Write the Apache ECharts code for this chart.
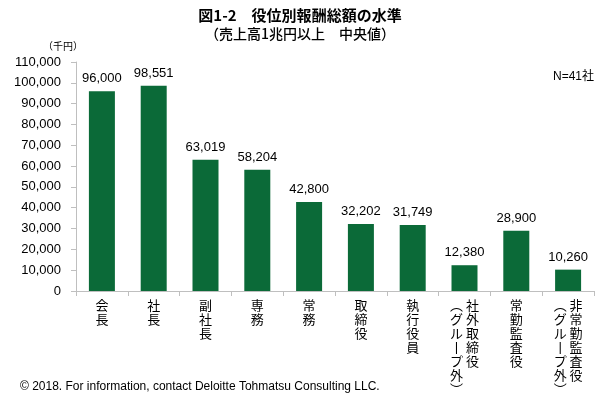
<!DOCTYPE html>
<html><head><meta charset="utf-8">
<script src="https://cdn.jsdelivr.net/npm/echarts@6/dist/echarts.min.js"></script>
<style>html,body{margin:0;padding:0;background:#fff}#c{width:600px;height:395px}</style>
</head><body><div id="c"></div>
<script>
const categories = ['会長','社長','副社長','専務','常務','取締役','執行役員','社外取締役','常勤監査役','非常勤監査役'];
const subNotes = ['','','','','','','','（グループ外）','','（グループ外）'];
const values = [96000, 98551, 63019, 58204, 42800, 32202, 31749, 12380, 28900, 10260];
const yTicks = [0,10000,20000,30000,40000,50000,60000,70000,80000,90000,100000,110000];

const vmap = {'（':'︵','）':'︶','ー':'丨'};
function vert(main, note){
  const a = Array.from(main);
  const b = Array.from(note).map(c => vmap[c] || c);
  if (!b.length) return a.join('\n');
  const n = Math.max(a.length, b.length);
  const rows = [];
  for (let i=0;i<n;i++){
    rows.push((b[i]||'　') + ' ' + (a[i]||'　'));
  }
  return rows.join('\n');
}
const labels = categories.map((c,i)=>vert(c, subNotes[i]));

const chart = echarts.init(document.getElementById('c'), null, {renderer:'canvas'});
const jp = '"Liberation Sans", Arial, "Noto Sans CJK JP", sans-serif';
chart.setOption({
  animation:false,
  backgroundColor:'#fff',
  title:[
    {text:'図1-2　役位別報酬総額の水準', left:'center', top:3,
     textStyle:{fontFamily:'"Noto Sans CJK JP", sans-serif', fontSize:15, fontWeight:'bold', color:'#000'}},
    {text:'（売上高1兆円以上　中央値）', left:'center', top:22,
     textStyle:{fontFamily:'"Noto Sans CJK JP", sans-serif', fontSize:14, fontWeight:500, color:'#000'}},
    {text:'（千円）', left:38, top:36,
     textStyle:{fontFamily:'"Noto Sans CJK JP", sans-serif', fontSize:10, fontWeight:'normal', color:'#000'}},
    {text:'N=41社', left:548, top:66,
     textStyle:{fontFamily:jp, fontSize:12, fontWeight:'normal', color:'#000'}},
    {text:'© 2018. For information, contact Deloitte Tohmatsu Consulting LLC.', left:15, top:376,
     textStyle:{fontFamily:jp, fontSize:12, fontWeight:'normal', color:'#000'}}
  ],
  grid:{left:76, right:6, top:62, bottom:104, containLabel:false, outerBoundsMode:'none'},
  xAxis:{type:'category', data:labels,
    axisLine:{lineStyle:{color:'#bfbfbf'}},
    axisTick:{show:true, alignWithLabel:false, length:5, lineStyle:{color:'#bfbfbf'}},
    axisLabel:{interval:0, margin:7, color:'#000', fontSize:13, lineHeight:14,
      fontFamily:'"Noto Sans CJK JP", sans-serif', verticalAlign:'top'}},
  yAxis:{type:'value', min:0, max:110000, interval:10000,
    axisLine:{show:true, lineStyle:{color:'#bfbfbf'}},
    axisTick:{show:true, length:5, lineStyle:{color:'#bfbfbf'}},
    splitLine:{show:false},
    axisLabel:{color:'#000', fontSize:13, fontFamily:jp, margin:15,
      formatter:v=>v.toLocaleString('en-US')}},
  series:[{type:'bar', data:values, barWidth:26,
    itemStyle:{color:'#0b6a38'},
    label:{show:true, position:'top', distance:6, color:'#000', fontSize:13, fontFamily:jp,
      formatter:p=>p.value.toLocaleString('en-US')}}]
});
</script></body></html>
